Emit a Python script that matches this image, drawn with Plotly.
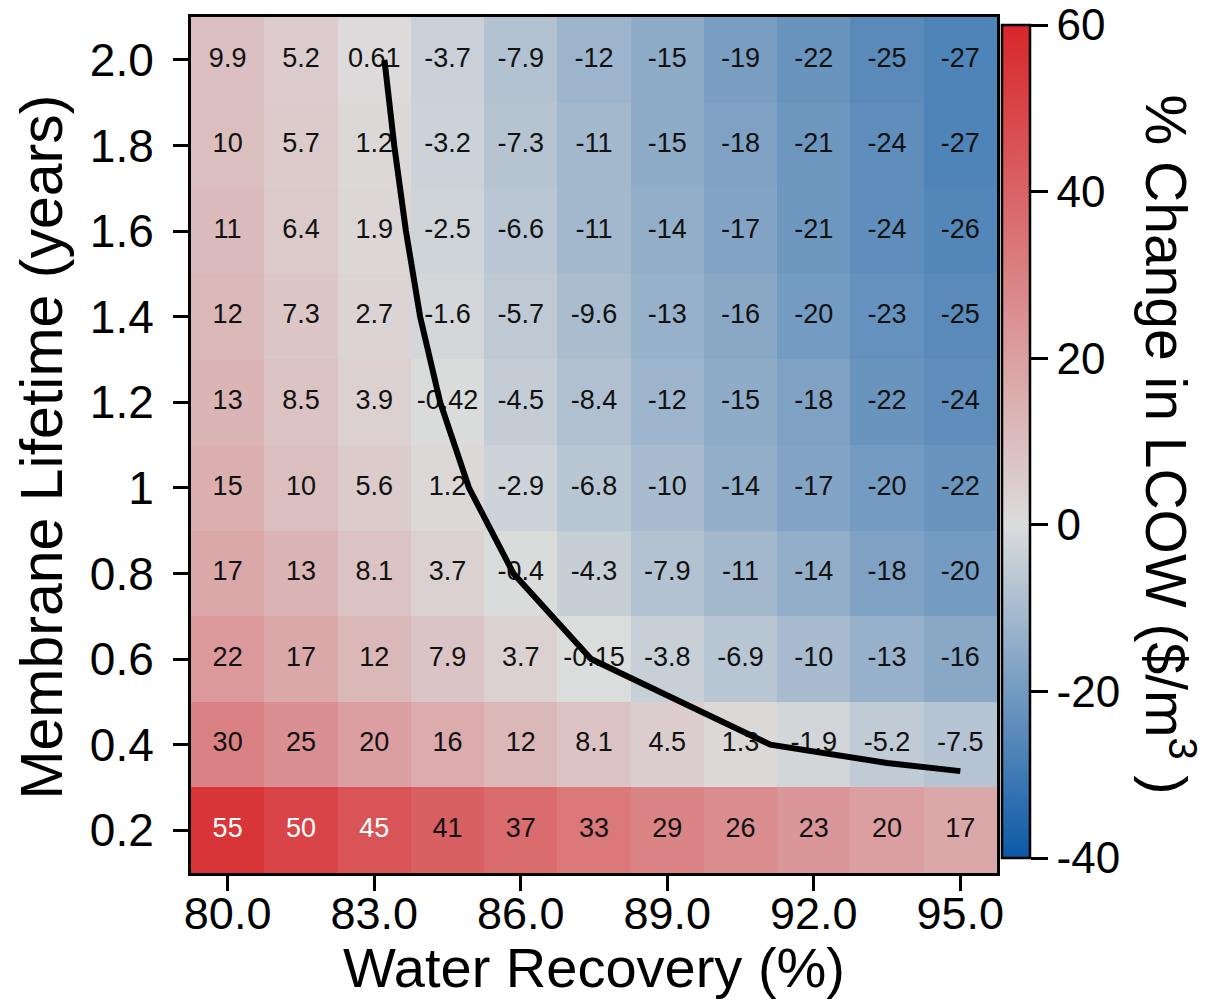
import plotly.graph_objects as go

# Grid of scenarios: water recovery (%) across, membrane lifetime (years) down
recovery = [80.0, 81.5, 83.0, 84.5, 86.0, 87.5, 89.0, 90.5, 92.0, 93.5, 95.0]
lifetime = [2.0, 1.8, 1.6, 1.4, 1.2, 1.0, 0.8, 0.6, 0.4, 0.2]

# % change in levelized cost of water, one row per membrane lifetime
lcow_change = [
    [9.9, 5.2, 0.61, -3.7, -7.9, -12, -15, -19, -22, -25, -27],
    [10, 5.7, 1.2, -3.2, -7.3, -11, -15, -18, -21, -24, -27],
    [11, 6.4, 1.9, -2.5, -6.6, -11, -14, -17, -21, -24, -26],
    [12, 7.3, 2.7, -1.6, -5.7, -9.6, -13, -16, -20, -23, -25],
    [13, 8.5, 3.9, -0.42, -4.5, -8.4, -12, -15, -18, -22, -24],
    [15, 10, 5.6, 1.2, -2.9, -6.8, -10, -14, -17, -20, -22],
    [17, 13, 8.1, 3.7, -0.4, -4.3, -7.9, -11, -14, -18, -20],
    [22, 17, 12, 7.9, 3.7, -0.15, -3.8, -6.9, -10, -13, -16],
    [30, 25, 20, 16, 12, 8.1, 4.5, 1.3, -1.9, -5.2, -7.5],
    [55, 50, 45, 41, 37, 33, 29, 26, 23, 20, 17],
]

# Break-even curve (zero change in LCOW)
breakeven_recovery = [83.21, 83.41, 83.65, 83.94, 84.35, 84.94, 85.85, 87.44, 91.11, 93.5, 95.0]
breakeven_lifetime = [2.0, 1.8, 1.6, 1.4, 1.2, 1.0, 0.8, 0.6, 0.4, 0.357, 0.338]

x_tick_vals = [80, 83, 86, 89, 92, 95]
x_tick_text = ["80.0", "83.0", "86.0", "89.0", "92.0", "95.0"]
y_tick_text = ["2.0", "1.8", "1.6", "1.4", "1.2", "1", "0.8", "0.6", "0.4", "0.2"]
cbar_vals = [60, 40, 20, 0, -20, -40]
cbar_text = ["60", "40", "20", "0", "-20", "-40"]

FONT = "Liberation Sans, Arial, sans-serif"

colorscale = [
    [0.0, "#0b59a6"],
    [0.4, "#dcdcdc"],
    [1.0, "#d8262a"],
]

fig = go.Figure()

fig.add_trace(go.Heatmap(
    x=recovery,
    y=lifetime,
    z=lcow_change,
    zmin=-40,
    zmax=60,
    colorscale=colorscale,
    hoverinfo="skip",
    colorbar=dict(
        x=1.0062, xanchor="left", xpad=0,
        y=0.0175, yanchor="bottom", ypad=0,
        len=0.973, lenmode="fraction",
        thickness=28,
        outlinewidth=2.5, outlinecolor="black",
        tickmode="array", tickvals=cbar_vals, ticktext=cbar_text,
        ticks="outside", ticklen=17, tickwidth=2.5, tickcolor="black",
        tickfont=dict(family=FONT, size=44, color="black"),
    ),
))

# Cell value labels
cell_x, cell_y, cell_text, cell_color = [], [], [], []
for yi, row in zip(lifetime, lcow_change):
    for xi, v in zip(recovery, row):
        cell_x.append(xi)
        cell_y.append(yi)
        cell_text.append(f"{v:.2g}")
        cell_color.append("white" if v > 43 else "#111111")

fig.add_trace(go.Scatter(
    x=cell_x, y=cell_y, text=cell_text, mode="text",
    textfont=dict(family=FONT, size=27, color=cell_color),
    hoverinfo="skip", showlegend=False,
))

fig.add_trace(go.Scatter(
    x=breakeven_recovery, y=breakeven_lifetime, mode="lines",
    line=dict(color="black", width=6),
    hoverinfo="skip", showlegend=False,
))

fig.update_layout(
    width=1212, height=1000,
    margin=dict(l=191, r=215, t=17, b=127),
    paper_bgcolor="white", plot_bgcolor="white",
    showlegend=False,
    xaxis=dict(
        range=[79.25, 95.75], showgrid=False, zeroline=False,
        tickmode="array", tickvals=x_tick_vals, ticktext=x_tick_text,
        ticks="outside", ticklen=15, tickwidth=2.5, tickcolor="black",
        ticklabelstandoff=-16,
        tickfont=dict(family=FONT, size=45, color="black"),
        showline=True, linewidth=3, linecolor="black", mirror=True,
    ),
    yaxis=dict(
        range=[0.1, 2.1], showgrid=False, zeroline=False,
        tickmode="array", tickvals=lifetime, ticktext=y_tick_text,
        ticks="outside", ticklen=15, tickwidth=2.5, tickcolor="black",
        ticklabelstandoff=10,
        tickfont=dict(family=FONT, size=46, color="black"),
        showline=True, linewidth=3, linecolor="black", mirror=True,
    ),
    annotations=[
        dict(text="Water Recovery (%)", xref="paper", yref="paper",
             x=0.5, y=-0.11, xanchor="center", yanchor="middle",
             showarrow=False, font=dict(family=FONT, size=56, color="black")),
        dict(text="Membrane Lifetime (years)", xref="paper", yref="paper",
             x=-0.185, y=0.498, xanchor="center", yanchor="middle", textangle=-90,
             showarrow=False, font=dict(family=FONT, size=59, color="black")),
        dict(text="% Change in LCOW ($/m<sup>3</sup> )", xref="paper", yref="paper",
             x=1.214, y=0.5, xanchor="center", yanchor="middle", textangle=90,
             showarrow=False, font=dict(family=FONT, size=57, color="black")),
    ],
)

fig.write_html("out.html")
